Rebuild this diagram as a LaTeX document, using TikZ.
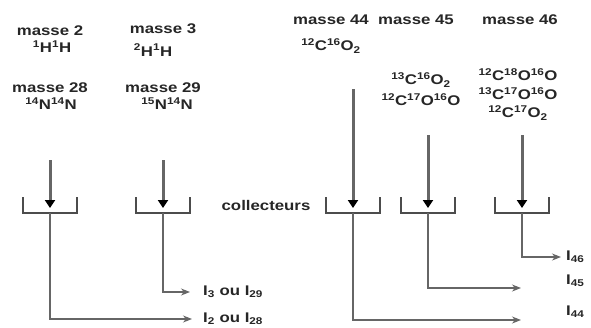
\documentclass[tikz,border=0pt]{standalone}
\usepackage{fontspec}
\setmainfont[FakeStretch=1.2]{Liberation Sans}
\usetikzlibrary{arrows.meta}
\newcommand{\iso}[2]{\textsuperscript{#1}#2}
\begin{document}
\begin{tikzpicture}[x=1pt,y=-1pt,
  lab/.style={font=\fontsize{14}{15}\selectfont\bfseries, inner sep=0pt, text=black!85},
  beam/.style={line width=3pt, draw=black!60, -{Triangle[length=8pt,width=10pt,color=black]}},
  cup/.style={line width=1.8pt, draw=black!70},
  outl/.style={line width=1.1pt, draw=black!60, -{Stealth[length=9pt,width=7pt]}}]
\useasboundingbox (0,0) rectangle (591,327);
% --- labels
\node[lab] (m2)  at (50,31)  {masse 2};
\node[lab] (h2)  at (52,47)  {\iso{1}{H}\iso{1}{H}};
\node[lab] (m3)  at (163,29) {masse 3};
\node[lab] (h3)  at (153,50) {\iso{2}{H}\iso{1}{H}};
\node[lab] (m28) at (50,88)  {masse 28};
\node[lab] (n28) at (51,104) {\iso{14}{N}\iso{14}{N}};
\node[lab] (m29) at (163,88) {masse 29};
\node[lab] (n29) at (167,104){\iso{15}{N}\iso{14}{N}};
\node[lab] (m44) at (331,20) {masse 44};
\node[lab] (m45) at (416,20) {masse 45};
\node[lab] (m46) at (520,20) {masse 46};
\node[lab] (c44) at (331,46) {\iso{12}{C}\iso{16}{O}\textsubscript{2}};
\node[lab] (c45a) at (421,80) {\iso{13}{C}\iso{16}{O}\textsubscript{2}};
\node[lab] (c45b) at (421,100){\iso{12}{C}\iso{17}{O}\iso{16}{O}};
\node[lab] (c46a) at (518,75) {\iso{12}{C}\iso{18}{O}\iso{16}{O}};
\node[lab] (c46b) at (518,94) {\iso{13}{C}\iso{17}{O}\iso{16}{O}};
\node[lab] (c46c) at (518,113){\iso{12}{C}\iso{17}{O}\textsubscript{2}};
\node[lab] (coll) at (266,205) {collecteurs};
\node[lab, anchor=west] (i2)  at (203,319) {I\textsubscript{2} ou I\textsubscript{28}};
\node[lab, anchor=west] (i3)  at (203,292) {I\textsubscript{3} ou I\textsubscript{29}};
\node[lab, anchor=west] (i44) at (566,312) {I\textsubscript{44}};
\node[lab, anchor=west] (i45) at (566,281) {I\textsubscript{45}};
\node[lab, anchor=west] (i46) at (566,257) {I\textsubscript{46}};
% --- collectors
\foreach \n/\x in {1/50,2/163,44/353,45/428,46/522}{
  \draw[cup] (\x-27,197) -- (\x-27,213) -- (\x+27,213) -- (\x+27,197);
  \coordinate (k\n) at (\x,208);
  \coordinate (b\n) at (\x,213);
}
% --- beam starts
\coordinate (s1) at (50,160);
\coordinate (s2) at (163,160);
\coordinate (s44) at (353,89);
\coordinate (s45) at (428,135);
\coordinate (s46) at (522,135);
\foreach \n in {1,2,44,45,46}{ \draw[beam] (s\n) -- (k\n); }
% --- output ends
\coordinate (e1) at (192,319);
\coordinate (e2) at (190,292);
\coordinate (e44) at (521,320);
\coordinate (e45) at (521,288);
\coordinate (e46) at (561,257);
\foreach \n in {1,2,44,45,46}{ \draw[outl] (b\n) |- (e\n); }
\end{tikzpicture}
\end{document}
